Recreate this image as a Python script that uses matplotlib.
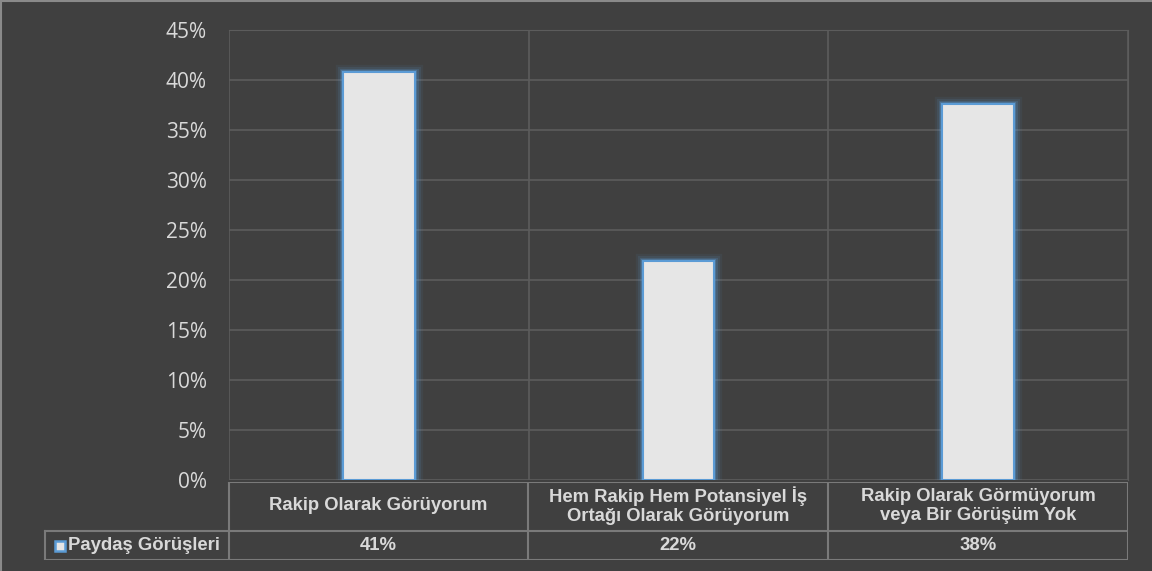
import matplotlib
matplotlib.use("Agg")
import matplotlib.pyplot as plt
from matplotlib.patches import Rectangle

categories = ["Rakip Olarak Görüyorum",
              "Hem Rakip Hem Potansiyel İş\nOrtağı Olarak Görüyorum",
              "Rakip Olarak Görmüyorum\nveya Bir Görüşüm Yok"]
values = [40.8, 21.9, 37.6]
value_labels = ["41%", "22%", "38%"]
series_name = "Paydaş Görüşleri"
yticks = [0, 5, 10, 15, 20, 25, 30, 35, 40, 45]

BG = "#404040"
GRID = "#5c5c5c"
TABLE = "#7a7a7a"
TXT = "#d9d9d9"
BAR = "#e6e6e6"
EDGE = "#5b9bd5"

plt.rcParams["font.family"] = ["Liberation Sans", "DejaVu Sans"]

W, H = 1152, 571
fig = plt.figure(figsize=(W / 100, H / 100), dpi=100, facecolor=BG)


def fr(x0, y0, x1, y1):
    # pixel box (top-left origin) -> figure fraction rect
    return [x0 / W, 1 - y1 / H, (x1 - x0) / W, (y1 - y0) / H]


# ---- main plot ----
ax = fig.add_axes(fr(229, 30, 1128, 480))
ax.set_facecolor(BG)
n = len(categories)
xs = [i + 0.5 for i in range(n)]
# glow
for lw, a in [(11, 0.07), (8, 0.12), (5, 0.2), (3, 0.35)]:
    ax.bar(xs, values, width=0.24, color="none", edgecolor=EDGE,
           linewidth=lw, alpha=a, zorder=2)
ax.bar(xs, values, width=0.24, color=BAR, edgecolor=EDGE, linewidth=1.5, zorder=3)
ax.set_xlim(0, n)
ax.set_ylim(0, 45)
ax.set_yticks(yticks)
ax.set_yticklabels([f"{t}%" for t in yticks], color=TXT, fontsize=15,
                   family=["Open Sans", "DejaVu Sans"])
ax.tick_params(axis="y", length=0, pad=16)
ax.set_xticks(range(n + 1))
ax.tick_params(axis="x", length=0, labelbottom=False)
ax.grid(True, color=GRID, linewidth=1.2, zorder=0)
for s in ax.spines.values():
    s.set_visible(False)
ax.spines["right"].set_visible(True)
ax.spines["right"].set_color(GRID)
ax.spines["top"].set_visible(True)
ax.spines["top"].set_color(GRID)

# ---- data table ----
tx = fig.add_axes(fr(0, 482, 1128, 560))
tx.set_xlim(0, 1128)
tx.set_ylim(560, 482)
tx.axis("off")
edges = [229, 528, 828, 1128]
lk = dict(color=TABLE, linewidth=1.5)
tx.plot([229, 1128], [482, 482], **lk)
tx.plot([45, 1128], [531, 531], **lk)
tx.plot([45, 1128], [560, 560], **lk)
tx.plot([45, 45], [531, 560], **lk)
for e in edges:
    tx.plot([e, e], [482, 560], **lk)
for i, (c, v) in enumerate(zip(categories, value_labels)):
    cx = (edges[i] + edges[i + 1]) / 2
    tx.text(cx, 506, c, ha="center", va="center", color=TXT,
            fontsize=13.3, fontweight="bold", linespacing=1.15)
    tx.text(cx, 546, v, ha="center", va="center", color=TXT,
            fontsize=13.3, fontweight="bold")
tx.add_patch(Rectangle((55, 541), 10, 10, facecolor=BAR, edgecolor=EDGE,
                       linewidth=1.8, clip_on=False))
tx.text(68, 546, series_name, ha="left", va="center", color=TXT,
        fontsize=13.3, fontweight="bold")

# outer border (top / left)
fig.add_artist(plt.Line2D([0, 1], [1 - 1 / H, 1 - 1 / H], color="#8a8a8a", linewidth=1.5))
fig.add_artist(plt.Line2D([1 / W, 1 / W], [0, 1], color="#8a8a8a", linewidth=1.5))

fig.savefig("out.png", dpi=100, facecolor=BG)
